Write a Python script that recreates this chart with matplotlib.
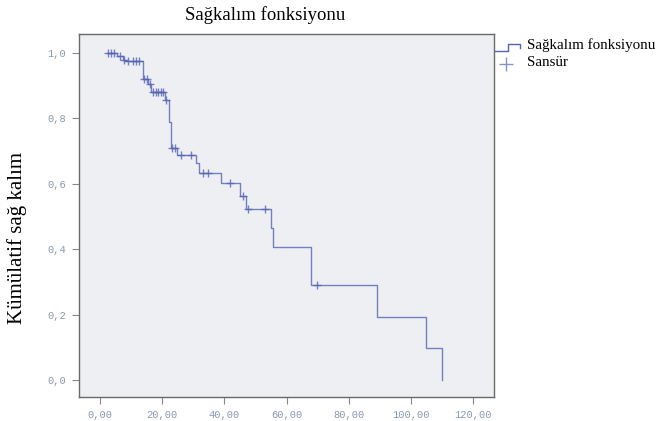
import numpy as np
import matplotlib
matplotlib.use("Agg")
import matplotlib.pyplot as plt
from matplotlib.lines import Line2D

# ---- data ----
event_times = [2.2, 5.5, 7.3, 8.5, 13.8, 15.5, 16.5, 20.9, 22.2, 22.8, 24.9,
               30.9, 31.9, 38.9, 45.0, 46.9, 55.0, 55.7, 67.9, 89.2, 104.9, 110.0]
survival = [1.0, 0.99, 0.98, 0.975, 0.92, 0.905, 0.88, 0.855, 0.79, 0.71, 0.688,
            0.663, 0.634, 0.601, 0.564, 0.524, 0.465, 0.408, 0.291, 0.194, 0.097, 0.0]
censor_times = [2.6, 3.5, 4.5, 6.5, 7.8, 9.0, 10.6, 11.5, 12.5, 14.3, 15.1, 16.0,
                17.0, 17.9, 18.6, 19.5, 20.2, 21.3, 23.3, 24.1, 25.9, 29.2, 33.0,
                34.8, 41.8, 46.1, 47.7, 53.1, 69.9]
x_ticks = [0, 20, 40, 60, 80, 100, 120]
x_ticklabels = ["0,00", "20,00", "40,00", "60,00", "80,00", "100,00", "120,00"]
y_ticks = [0.0, 0.2, 0.4, 0.6, 0.8, 1.0]
y_ticklabels = ["0,0", "0,2", "0,4", "0,6", "0,8", "1,0"]
title = "Sağkalım fonksiyonu"
ylabel = "Kümülatif sağ kalım"
legend_labels = ["Sağkalım fonksiyonu", "Sansür"]

line_color = "#5563b5"
tick_color = "#8a98ae"

fig = plt.figure(figsize=(6.70, 4.21), dpi=100)
W, H = 670, 421
ax = fig.add_axes([79 / W, 1 - 397 / H, (494 - 79) / W, (397 - 34) / H])
ax.set_facecolor("#eeeff2")

ax.step(event_times, survival, where="post", color=line_color, lw=1.0, alpha=0.8)

idx = np.searchsorted(event_times, censor_times, side="right") - 1
censor_levels = np.array(survival)[idx]
ax.plot(censor_times, censor_levels, linestyle="none", marker="+", markersize=6,
        mew=1.0, color=line_color, alpha=0.8)

ax.set_xlim(-6.75, 126.7)
ax.set_ylim(-0.052, 1.058)
ax.set_xticks(x_ticks)
ax.set_xticklabels(x_ticklabels)
ax.set_yticks(y_ticks)
ax.set_yticklabels(y_ticklabels)
for lab in ax.get_xticklabels() + ax.get_yticklabels():
    lab.set_fontfamily("Liberation Mono")
    lab.set_fontsize(7.5)
    lab.set_color(tick_color)
ax.tick_params(direction="out", length=5, width=0.8, color="#888888", pad=4)
for s in ax.spines.values():
    s.set_color("#6a6a6a")
    s.set_linewidth(1.0)

def px(x, y):
    return x / W, 1 - y / H

lx, ly = px(17, 238)
fig.text(lx, ly, ylabel, fontfamily="Liberation Serif", fontsize=15,
         rotation=90, ha="center", va="center")
tx, ty = px(265, 15)
fig.text(tx, ty, title, fontfamily="Liberation Serif", fontsize=13.5,
         ha="center", va="center")

# legend drawn at figure pixel positions
xs = [495, 508, 508, 520, 520]
ys = [51, 51, 44, 44, 48]
fx = [px(a, b)[0] for a, b in zip(xs, ys)]
fy = [px(a, b)[1] for a, b in zip(xs, ys)]
fig.add_artist(Line2D(fx, fy, transform=fig.transFigure, color=line_color, lw=1.0))
cx, cy = px(506, 64)
fig.add_artist(Line2D([cx], [cy], transform=fig.transFigure, marker="+",
                      markersize=10, mew=1.0, color=line_color, alpha=0.7))
tx, ty = px(527, 45)
fig.text(tx, ty, legend_labels[0], fontfamily="Liberation Serif", fontsize=10.8,
         ha="left", va="center")
tx, ty = px(527, 63)
fig.text(tx, ty, legend_labels[1], fontfamily="Liberation Serif", fontsize=10.8,
         ha="left", va="center")

fig.savefig("out.png", dpi=100, facecolor="white")
